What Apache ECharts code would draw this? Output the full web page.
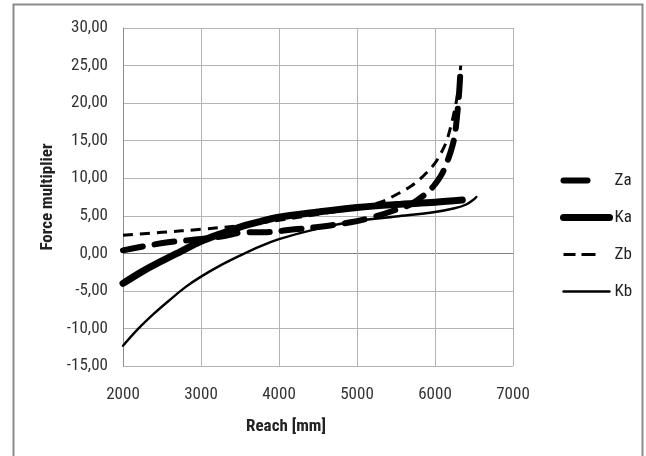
<!DOCTYPE html>
<html>
<head>
<meta charset="utf-8">
<script src="https://cdn.jsdelivr.net/npm/echarts@6/dist/echarts.min.js"></script>
<style>
  html, body { margin: 0; padding: 0; background: #fff; }
  #chart { width: 646px; height: 456px; }
</style>
</head>
<body>
<div id="chart"></div>
<script>
// Reach [mm] vs force multiplier, four configurations
const seriesNames = ['Za', 'Ka', 'Zb', 'Kb'];

const zaPoints = [
  [2000, 0.4], [2300, 1.0], [2600, 1.5], [3000, 1.9], [3300, 2.3], [3550, 2.8],
  [3800, 2.8], [4200, 3.2], [4500, 3.5], [4900, 4.1], [5200, 4.8], [5500, 5.8],
  [5700, 6.6], [5900, 8.1], [6000, 9.2], [6100, 10.8], [6200, 13.5], [6250, 15.5],
  [6280, 18.0], [6310, 21.5], [6330, 25.0]
];
const kaPoints = [
  [2000, -4.0], [2250, -2.4], [2500, -1.0], [2750, 0.3], [3000, 1.6], [3250, 2.6],
  [3500, 3.5], [3750, 4.2], [4000, 4.8], [4500, 5.5], [5000, 6.1], [5500, 6.5],
  [6000, 6.8], [6350, 7.1]
];
const zbPoints = [
  [2000, 2.4], [2500, 2.8], [3000, 3.2], [3500, 3.7], [4000, 4.4], [4500, 5.2],
  [5000, 6.0], [5300, 6.8], [5500, 7.8], [5700, 9.0], [5850, 10.3], [6000, 12.0],
  [6100, 13.8], [6160, 15.3], [6250, 19.0], [6300, 22.0], [6330, 25.0]
];
const kbPoints = [
  [2000, -12.3], [2200, -10.0], [2400, -8.0], [2600, -6.2], [2800, -4.5], [3000, -3.1],
  [3250, -1.6], [3500, -0.3], [3750, 0.9], [4000, 1.9], [4500, 3.3], [5000, 4.3],
  [5500, 4.9], [6000, 5.5], [6250, 6.0], [6400, 6.5], [6500, 7.2], [6530, 7.5]
];

const xMin = 2000, xMax = 7000, xStep = 1000;
const yMin = -15, yMax = 30, yStep = 5;

const FONT = "'Liberation Sans Narrow', 'Roboto Condensed', 'Liberation Sans', sans-serif";

// darker rule along the zero line, light grey elsewhere
const yGridColors = [];
for (let v = yMin; v <= yMax; v += yStep) yGridColors.push(v === 0 ? '#7f7f7f' : '#b3b3b3');

const styles = {
  Za: { width: 6, type: [20, 12], cap: 'round', legendType: [24, 60] },
  Ka: { width: 7, type: 'solid', cap: 'round', legendType: 'solid' },
  Zb: { width: 3, type: [10, 7], cap: 'butt', legendType: [12, 6, 14, 60] },
  Kb: { width: 2.4, type: 'solid', cap: 'round', legendType: 'solid' }
};
const dataByName = { Za: zaPoints, Ka: kaPoints, Zb: zbPoints, Kb: kbPoints };

const chart = echarts.init(document.getElementById('chart'), null, { renderer: 'canvas' });

chart.setOption({
  animation: false,
  backgroundColor: '#fff',
  textStyle: { fontFamily: FONT },
  grid: { left: 123, top: 28, width: 390, height: 338 },
  legend: {
    orient: 'vertical',
    left: 555,
    top: 167,
    itemWidth: 46,
    itemHeight: 8,
    itemGap: 20,
    textStyle: { fontFamily: FONT, fontSize: 17, color: '#222' },
    data: seriesNames.map(n => ({
      name: n,
      itemStyle: { opacity: 0 },
      lineStyle: { width: styles[n].width, type: styles[n].legendType, cap: styles[n].cap }
    }))
  },
  xAxis: {
    type: 'value',
    min: xMin, max: xMax, interval: xStep,
    name: 'Reach [mm]',
    nameLocation: 'middle',
    nameGap: 52,
    nameTextStyle: { fontFamily: FONT, fontWeight: 'bold', fontSize: 17, color: '#222', padding: [0, 64, 0, 0] },
    axisLine: { onZero: false, show: false },
    axisTick: { show: false },
    axisLabel: { fontFamily: FONT, fontSize: 17, color: '#333', margin: 20, formatter: v => String(v) },
    splitLine: { show: true, lineStyle: { color: '#b3b3b3', width: 1 } }
  },
  yAxis: {
    type: 'value',
    min: yMin, max: yMax, interval: yStep,
    name: 'Force multiplier',
    nameLocation: 'middle',
    nameGap: 66,
    nameTextStyle: { fontFamily: FONT, fontWeight: 'bold', fontSize: 17, color: '#222' },
    axisLine: { show: true, lineStyle: { color: '#8c8c8c', width: 1 } },
    axisTick: { show: false },
    axisLabel: {
      fontFamily: FONT, fontSize: 17, color: '#333', margin: 15,
      formatter: v => v.toFixed(2).replace('.', ',')
    },
    splitLine: { show: true, lineStyle: { color: yGridColors, width: 1 } }
  },
  graphic: [{
    type: 'rect',
    shape: { x: 13.5, y: 4.5, width: 629, height: 480 },
    style: { fill: 'none', stroke: '#8c8c8c', lineWidth: 2 },
    silent: true
  }],
  series: seriesNames.map(n => ({
    name: n,
    type: 'line',
    data: dataByName[n],
    smooth: 0.35,
    showSymbol: false,
    symbol: 'none',
    color: '#000',
    lineStyle: { color: '#000', width: styles[n].width, type: styles[n].type, cap: styles[n].cap, join: 'round' }
  }))
});
</script>
</body>
</html>
